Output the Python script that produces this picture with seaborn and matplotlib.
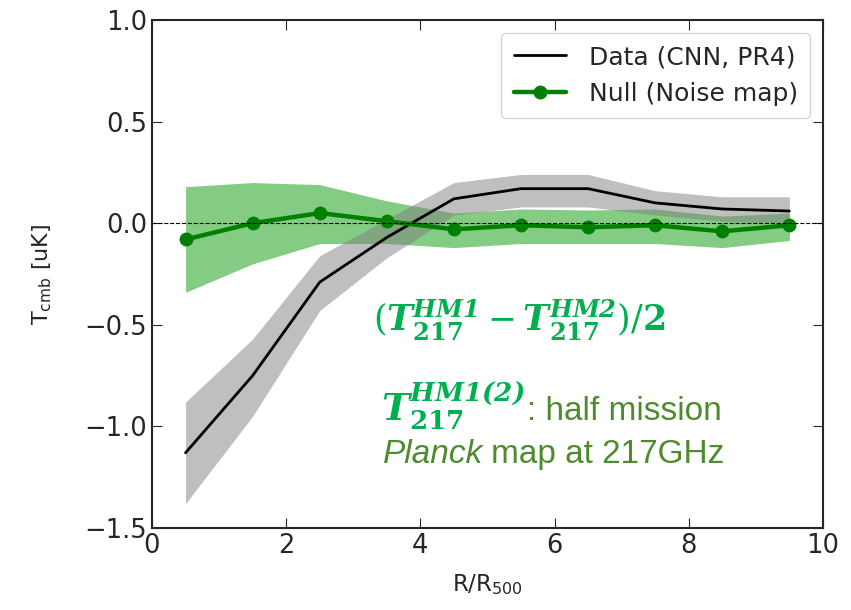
import numpy as np
import pandas as pd
import matplotlib
matplotlib.use("Agg")
import matplotlib.pyplot as plt
import seaborn as sns

# radial bins
r_bins = [0.5, 1.5, 2.5, 3.5, 4.5, 5.5, 6.5, 7.5, 8.5, 9.5]

# data (CNN, PR4)
data_mean = [-1.13, -0.75, -0.29, -0.07, 0.12, 0.17, 0.17, 0.10, 0.07, 0.06]
data_low = [-1.38, -0.95, -0.43, -0.17, 0.04, 0.08, 0.08, 0.04, 0.01, 0.00]
data_high = [-0.88, -0.57, -0.16, 0.02, 0.20, 0.24, 0.24, 0.16, 0.13, 0.13]

# null test (noise map)
null_mean = [-0.08, 0.00, 0.05, 0.01, -0.03, -0.01, -0.02, -0.01, -0.04, -0.01]
null_low = [-0.34, -0.20, -0.10, -0.10, -0.12, -0.10, -0.10, -0.10, -0.12, -0.085]
null_high = [0.18, 0.20, 0.19, 0.11, 0.05, 0.07, 0.065, 0.07, 0.035, 0.05]

df = pd.DataFrame({"r": r_bins, "data": data_mean, "null": null_mean})

sns.set_style("ticks")
plt.rcParams["font.family"] = ["DejaVu Sans"]
plt.rcParams["mathtext.fontset"] = "dejavuserif"

fig = plt.figure(figsize=(8.51, 6.10), dpi=100)
ax = fig.add_axes([0.1786, 0.1344, 0.7884, 0.8328])

ax.fill_between(r_bins, null_low, null_high, color="#0a9a0a", alpha=0.5, lw=0)
ax.fill_between(r_bins, data_low, data_high, color="gray", alpha=0.5, lw=0)
sns.lineplot(data=df, x="r", y="data", color="black", lw=2, ax=ax,
             label="Data (CNN, PR4)")
sns.lineplot(data=df, x="r", y="null", color="green", lw=3.2, marker="o",
             markersize=10, markeredgewidth=0, ax=ax, label="Null (Noise map)")
ax.axhline(0, color="black", ls="--", lw=0.8)

ax.set_xlim(0, 10)
ax.set_ylim(-1.5, 1.0)
ax.set_xticks([0, 2, 4, 6, 8, 10])
ax.set_yticks([-1.5, -1.0, -0.5, 0.0, 0.5, 1.0])
ax.tick_params(direction="in", top=True, right=True, labelsize=18.5, length=7)
for s in ax.spines.values():
    s.set_linewidth(1.5)
ax.set_xlabel(r"R/R$_{\mathregular{500}}$", fontsize=16.5, labelpad=10)
ax.set_ylabel(r"T$_{\mathregular{cmb}}$ [uK]", fontsize=16, labelpad=22)

ax.legend(loc="upper right", fontsize=18, handlelength=2.1,
          borderpad=0.5, labelspacing=0.5, handletextpad=0.9,
          borderaxespad=0.5)

green = "#00b050"
olive = "#4e8a2e"
ax.text(3.3, -0.53, r"$(\mathbfit{T}_{\mathbf{217}}^{\mathbfit{HM1}}-\mathbfit{T}_{\mathbf{217}}^{\mathbfit{HM2}})/\mathbf{2}$",
        fontsize=25, color=green)
t1 = ax.text(3.42, -0.97, r"$\mathbfit{T}_{\mathbf{217}}^{\mathbfit{HM1(2)}}$",
             fontsize=27, color=green)
ax.annotate(": half mission", xy=(1, -0.97), xycoords=(t1, "data"),
            xytext=(1, 0), textcoords="offset points",
            fontsize=24, color=olive, family="Liberation Sans", va="baseline")
t2 = ax.text(3.45, -1.18, "Planck", fontsize=24, color=olive,
             family="Liberation Sans", style="italic")
ax.annotate("map at 217GHz", xy=(1, -1.18), xycoords=(t2, "data"),
            xytext=(5, 0), textcoords="offset points",
            fontsize=24, color=olive, family="Liberation Sans", va="baseline")

fig.savefig("out.png", dpi=100)
